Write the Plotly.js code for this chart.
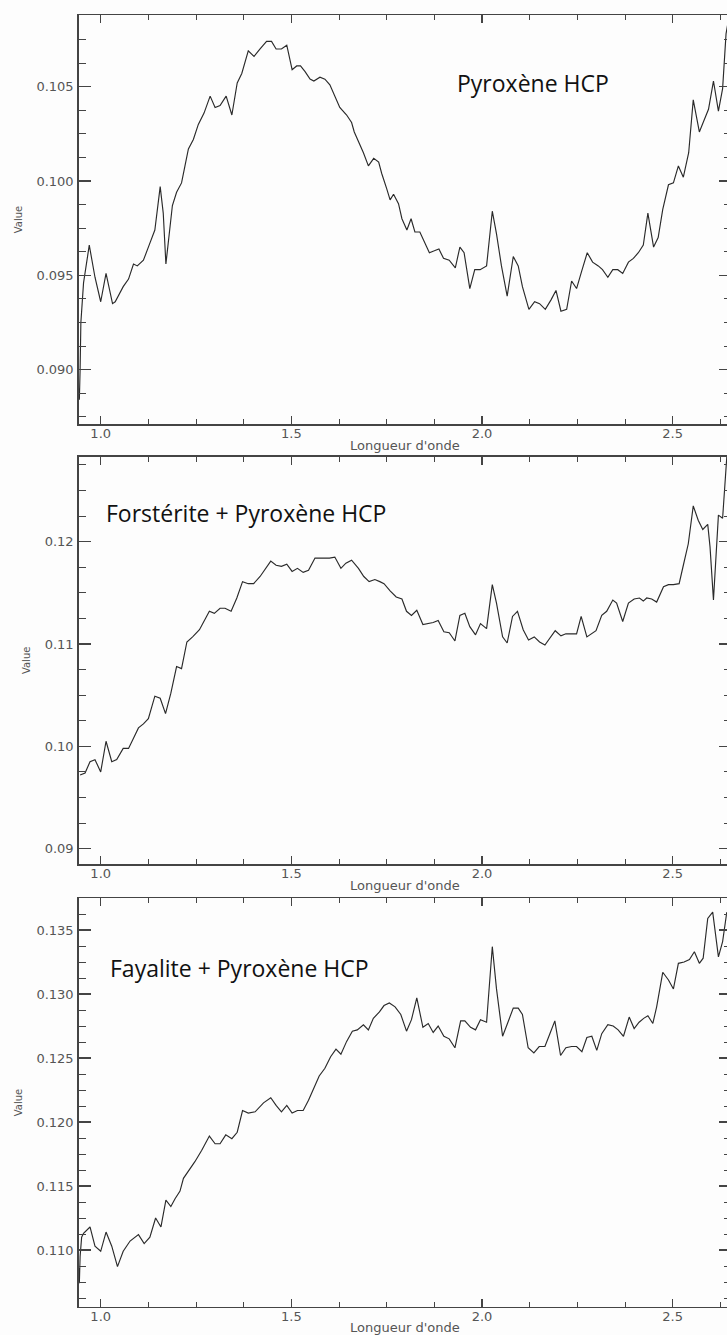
<!DOCTYPE html>
<html>
<head>
<meta charset="utf-8">
<script src="https://cdn.plot.ly/plotly-3.0.1.min.js"></script>
<style>
html,body{margin:0;padding:0;overflow:hidden;background:#fdfdfd;}
#chart{width:733px;height:1335px;}
</style>
</head>
<body>
<div id="chart"></div>
<script>
// Panel 1 : Pyroxène HCP
const wl1 = [0.943,0.944,0.946,0.948,0.955,0.970,0.985,1.000,1.014,1.031,1.038,1.059,1.073,1.086,1.096,1.112,1.127,1.142,1.156,1.164,1.171,1.179,1.188,1.199,1.212,1.221,1.230,1.243,1.256,1.271,1.287,1.300,1.313,1.329,1.344,1.358,1.370,1.387,1.402,1.418,1.435,1.448,1.460,1.474,1.488,1.502,1.514,1.524,1.536,1.549,1.559,1.575,1.588,1.601,1.614,1.627,1.645,1.658,1.665,1.676,1.689,1.702,1.716,1.729,1.737,1.750,1.759,1.768,1.781,1.790,1.803,1.814,1.824,1.837,1.851,1.862,1.875,1.887,1.899,1.914,1.930,1.942,1.953,1.968,1.981,1.995,2.012,2.027,2.038,2.051,2.066,2.082,2.095,2.106,2.123,2.138,2.151,2.166,2.181,2.194,2.207,2.222,2.235,2.248,2.261,2.276,2.290,2.305,2.316,2.330,2.343,2.356,2.369,2.384,2.397,2.410,2.423,2.435,2.450,2.462,2.474,2.489,2.502,2.515,2.528,2.542,2.554,2.570,2.580,2.594,2.607,2.620,2.631,2.640,2.646];
const val1 = [0.0890,0.0884,0.0900,0.0925,0.0946,0.0966,0.0949,0.0936,0.0951,0.0935,0.0936,0.0944,0.0948,0.0956,0.0955,0.0958,0.0966,0.0974,0.0997,0.0983,0.0956,0.0972,0.0987,0.0994,0.0999,0.1008,0.1017,0.1022,0.1030,0.1036,0.1045,0.1039,0.1040,0.1045,0.1035,0.1052,0.1057,0.1069,0.1066,0.1070,0.1074,0.1074,0.1070,0.1070,0.1072,0.1059,0.1061,0.1061,0.1058,0.1054,0.1053,0.1055,0.1054,0.1051,0.1045,0.1039,0.1035,0.1031,0.1026,0.1021,0.1015,0.1008,0.1012,0.1010,0.1004,0.0996,0.0990,0.0993,0.0988,0.0980,0.0974,0.0980,0.0973,0.0973,0.0967,0.0962,0.0963,0.0964,0.0959,0.0958,0.0954,0.0965,0.0962,0.0943,0.0953,0.0953,0.0955,0.0984,0.0972,0.0955,0.0939,0.0960,0.0955,0.0944,0.0932,0.0936,0.0935,0.0932,0.0937,0.0942,0.0931,0.0932,0.0947,0.0943,0.0952,0.0962,0.0957,0.0955,0.0953,0.0949,0.0953,0.0953,0.0951,0.0957,0.0959,0.0962,0.0966,0.0983,0.0965,0.0970,0.0985,0.0998,0.0999,0.1008,0.1002,0.1015,0.1043,0.1026,0.1031,0.1038,0.1053,0.1037,0.1049,0.1078,0.1085];

// Panel 2 : Forstérite + Pyroxène HCP
const wl2 = [0.946,0.959,0.972,0.985,1.000,1.014,1.029,1.042,1.059,1.073,1.086,1.099,1.112,1.125,1.142,1.156,1.170,1.184,1.199,1.212,1.226,1.241,1.259,1.271,1.285,1.298,1.313,1.326,1.342,1.357,1.372,1.387,1.401,1.418,1.430,1.446,1.460,1.474,1.488,1.502,1.516,1.531,1.545,1.562,1.579,1.600,1.614,1.630,1.643,1.658,1.676,1.690,1.704,1.719,1.732,1.743,1.759,1.775,1.790,1.802,1.815,1.829,1.845,1.860,1.872,1.885,1.900,1.914,1.929,1.942,1.955,1.968,1.983,1.996,2.012,2.027,2.038,2.054,2.066,2.080,2.093,2.108,2.122,2.137,2.151,2.165,2.180,2.192,2.207,2.220,2.248,2.260,2.275,2.288,2.299,2.314,2.327,2.343,2.353,2.369,2.384,2.399,2.413,2.423,2.432,2.445,2.458,2.476,2.489,2.502,2.517,2.528,2.541,2.554,2.567,2.579,2.592,2.598,2.607,2.620,2.631,2.642];
const val2 = [0.0972,0.0974,0.0985,0.0987,0.0975,0.1005,0.0985,0.0987,0.0998,0.0998,0.1008,0.1018,0.1022,0.1027,0.1049,0.1047,0.1032,0.1052,0.1078,0.1076,0.1102,0.1107,0.1114,0.1123,0.1132,0.1130,0.1135,0.1135,0.1132,0.1145,0.1161,0.1159,0.1159,0.1166,0.1172,0.1181,0.1177,0.1176,0.1178,0.1171,0.1174,0.1170,0.1172,0.1184,0.1184,0.1184,0.1185,0.1174,0.1179,0.1182,0.1174,0.1166,0.1161,0.1163,0.1161,0.1159,0.1152,0.1146,0.1144,0.1132,0.1128,0.1133,0.1119,0.1120,0.1121,0.1123,0.1112,0.1111,0.1103,0.1128,0.1130,0.1117,0.1109,0.1120,0.1115,0.1158,0.1140,0.1107,0.1101,0.1127,0.1132,0.1114,0.1104,0.1107,0.1102,0.1099,0.1107,0.1113,0.1108,0.1110,0.1110,0.1127,0.1107,0.1110,0.1113,0.1128,0.1132,0.1143,0.1140,0.1122,0.1140,0.1144,0.1145,0.1142,0.1145,0.1144,0.1141,0.1156,0.1158,0.1158,0.1159,0.1177,0.1198,0.1235,0.1221,0.1212,0.1217,0.1195,0.1143,0.1226,0.1223,0.1283];

// Panel 3 : Fayalite + Pyroxène HCP
const wl3 = [0.943,0.944,0.946,0.950,0.955,0.972,0.985,1.000,1.014,1.029,1.044,1.059,1.077,1.099,1.114,1.129,1.144,1.158,1.171,1.184,1.195,1.208,1.217,1.233,1.247,1.265,1.285,1.300,1.313,1.328,1.344,1.358,1.372,1.387,1.405,1.427,1.446,1.460,1.474,1.488,1.502,1.516,1.531,1.545,1.558,1.573,1.588,1.603,1.617,1.630,1.645,1.660,1.673,1.689,1.702,1.715,1.731,1.743,1.757,1.772,1.787,1.802,1.815,1.829,1.845,1.859,1.872,1.885,1.900,1.914,1.929,1.944,1.955,1.970,1.983,1.996,2.012,2.027,2.038,2.054,2.068,2.082,2.095,2.106,2.121,2.136,2.150,2.165,2.178,2.191,2.206,2.220,2.235,2.248,2.262,2.275,2.288,2.301,2.314,2.330,2.344,2.357,2.371,2.386,2.399,2.412,2.424,2.435,2.448,2.458,2.474,2.489,2.502,2.515,2.530,2.544,2.557,2.570,2.580,2.592,2.605,2.620,2.631,2.642];
const val3 = [0.1086,0.1074,0.1095,0.1110,0.1113,0.1118,0.1103,0.1099,0.1114,0.1103,0.1087,0.1099,0.1107,0.1112,0.1105,0.1110,0.1125,0.1118,0.1139,0.1134,0.1140,0.1146,0.1156,0.1163,0.1169,0.1178,0.1189,0.1183,0.1183,0.1190,0.1187,0.1192,0.1209,0.1207,0.1208,0.1215,0.1219,0.1213,0.1208,0.1213,0.1207,0.1209,0.1209,0.1217,0.1226,0.1236,0.1242,0.1251,0.1257,0.1253,0.1263,0.1271,0.1272,0.1276,0.1272,0.1281,0.1286,0.1291,0.1293,0.1290,0.1284,0.1271,0.1280,0.1297,0.1274,0.1277,0.1270,0.1275,0.1267,0.1265,0.1258,0.1279,0.1279,0.1274,0.1272,0.1280,0.1278,0.1337,0.1304,0.1267,0.1278,0.1289,0.1289,0.1284,0.1258,0.1254,0.1259,0.1259,0.1269,0.1279,0.1252,0.1258,0.1259,0.1259,0.1255,0.1266,0.1267,0.1256,0.1269,0.1276,0.1275,0.1272,0.1267,0.1282,0.1273,0.1278,0.1281,0.1283,0.1277,0.1290,0.1317,0.1311,0.1304,0.1324,0.1325,0.1327,0.1333,0.1324,0.1328,0.1359,0.1364,0.1329,0.1341,0.1364];

const panelLabels = ["Pyroxène HCP", "Forstérite + Pyroxène HCP", "Fayalite + Pyroxène HCP"];
const xTitle = "Longueur d'onde";
const yTitle = "Value";

const FONT = 'DejaVu Sans, Liberation Sans, Arial, sans-serif';
const AX = '#444';

function xAxis(anchor) {
  return {
    anchor: anchor,
    domain: [78.7/733, 731/733],
    range: [0.9423, 2.653],
    tick0: 0, dtick: 0.5, tickformat: '.1f',
    ticks: 'inside', ticklen: 8, tickwidth: 1.2, tickcolor: AX,
    ticklabelstandoff: -3,
    minor: {tick0: 0, dtick: 0.125, ticks: 'inside', ticklen: 5, tickwidth: 1, tickcolor: AX, showgrid: false},
    showline: true, linecolor: AX, linewidth: 1.5, mirror: 'ticks',
    showgrid: false, zeroline: false,
    tickfont: {family: FONT, size: 13, color: '#555'},
    title: {text: xTitle, standoff: 1, font: {family: FONT, size: 13, color: '#555'}},
    automargin: false
  };
}
function yAxis(anchor, domain, range, dtick, minor, fmt) {
  return {
    anchor: anchor,
    domain: domain,
    range: range,
    tick0: 0, dtick: dtick, tickformat: fmt,
    ticks: 'inside', ticklen: 12, tickwidth: 1.2, tickcolor: AX,
    ticklabelstandoff: 1,
    minor: {tick0: 0, dtick: minor, ticks: 'inside', ticklen: 7, tickwidth: 1, tickcolor: AX, showgrid: false},
    showline: true, linecolor: AX, linewidth: 1.5, mirror: 'ticks',
    showgrid: false, zeroline: false,
    tickfont: {family: FONT, size: 13, color: '#555'},
    title: {text: yTitle, standoff: 12, font: {family: FONT, size: 10, color: '#555'}},
    automargin: false
  };
}

const lineStyle = {color: '#2a2a2a', width: 1.15};
const traces = [
  {x: wl1, y: val1, xaxis: 'x', yaxis: 'y', type: 'scatter', mode: 'lines', line: lineStyle, hoverinfo: 'skip'},
  {x: wl2, y: val2, xaxis: 'x2', yaxis: 'y2', type: 'scatter', mode: 'lines', line: lineStyle, hoverinfo: 'skip'},
  {x: wl3, y: val3, xaxis: 'x3', yaxis: 'y3', type: 'scatter', mode: 'lines', line: lineStyle, hoverinfo: 'skip'}
];

const annFont = {family: 'Open Sans, Noto Sans, sans-serif', size: 23, color: '#111'};
const layout = {
  width: 733, height: 1335,
  margin: {l: 0, r: 0, t: 0, b: 0},
  paper_bgcolor: '#fdfdfd', plot_bgcolor: '#fdfdfd',
  showlegend: false,
  font: {family: FONT, size: 13, color: '#555'},
  xaxis: xAxis('y'),
  xaxis2: xAxis('y2'),
  xaxis3: xAxis('y3'),
  yaxis: yAxis('x', [1 - 424/1335, 1 - 15/1335], [0.08712, 0.1088], 0.005, 0.00125, '.3f'),
  yaxis2: yAxis('x2', [1 - 864/1335, 1 - 456.7/1335], [0.0885, 0.12831], 0.01, 0.0025, '.2f'),
  yaxis3: yAxis('x3', [1 - 1306.7/1335, 1 - 898.3/1335], [0.10557, 0.13748], 0.005, 0.00125, '.3f'),
  annotations: [
    {text: panelLabels[0], xref: 'x', yref: 'y', x: 1.929, y: 0.1052, xanchor: 'left', yanchor: 'middle', showarrow: false, font: annFont},
    {text: panelLabels[1], xref: 'x2', yref: 'y2', x: 1.009, y: 0.1228, xanchor: 'left', yanchor: 'middle', showarrow: false, font: annFont},
    {text: panelLabels[2], xref: 'x3', yref: 'y3', x: 1.020, y: 0.1320, xanchor: 'left', yanchor: 'middle', showarrow: false, font: annFont}
  ]
};

Plotly.newPlot('chart', traces, layout, {staticPlot: true, displayModeBar: false});
</script>
</body>
</html>
